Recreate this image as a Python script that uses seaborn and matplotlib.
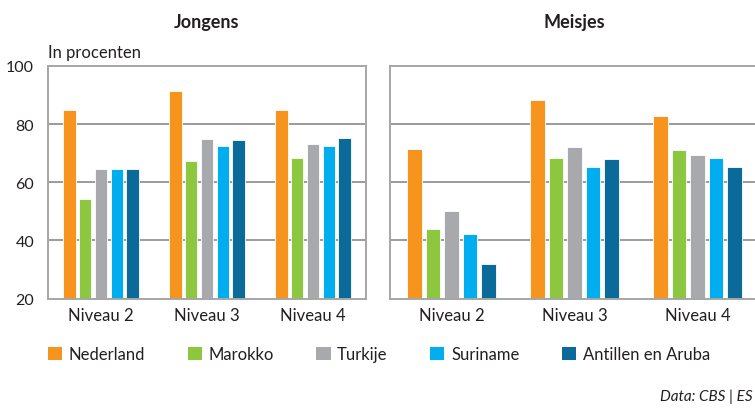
import pandas as pd
import matplotlib.pyplot as plt
import seaborn as sns
from matplotlib.patches import Patch

# Data (aflezen uit de grafiek)
niveaus = ['Niveau 2', 'Niveau 3', 'Niveau 4']
herkomst = ['Nederland', 'Marokko', 'Turkije', 'Suriname', 'Antillen en Aruba']
kleuren = ['#F7941D', '#8DC63F', '#A7A9AC', '#00AEEF', '#0A6A9A']

jongens = {
    'Nederland': [85.0, 91.5, 85.0],
    'Marokko': [54.1, 67.3, 68.4],
    'Turkije': [64.4, 74.8, 73.1],
    'Suriname': [64.4, 72.6, 72.6],
    'Antillen en Aruba': [64.4, 74.4, 75.2],
}
meisjes = {
    'Nederland': [71.5, 88.3, 82.9],
    'Marokko': [44.0, 68.5, 71.2],
    'Turkije': [50.1, 72.0, 69.3],
    'Suriname': [42.2, 65.4, 68.5],
    'Antillen en Aruba': [31.7, 68.1, 65.4],
}
yticks = [20, 40, 60, 80, 100]


def naar_long(d):
    rows = []
    for h in herkomst:
        for n, v in zip(niveaus, d[h]):
            rows.append({'Niveau': n, 'Herkomst': h, 'Waarde': v})
    return pd.DataFrame(rows)


sns.set_theme(style="white")
plt.rcParams['font.family'] = ['Lato', 'DejaVu Sans']
tekst = '#231f20'

fig = plt.figure(figsize=(7.55, 4.10), dpi=100)
ax_l = fig.add_axes([48 / 755, 1 - 299.5 / 410, 318 / 755, 232.5 / 410])
ax_r = fig.add_axes([390 / 755, 1 - 299.5 / 410, 369 / 755, 232.5 / 410])

for ax, data, titel in [(ax_l, jongens, 'Jongens'), (ax_r, meisjes, 'Meisjes')]:
    df = naar_long(data)
    sns.barplot(data=df, x='Niveau', y='Waarde', hue='Herkomst', order=niveaus,
                hue_order=herkomst, palette=kleuren, saturation=1, width=0.75, gap=0.2,
                edgecolor='white', linewidth=0.6, legend=False, ax=ax)
    ax.set_xlim(-0.5, 2.5)
    ax.set_ylim(20, 100)
    ax.set_yticks(yticks)
    for y in [40, 60, 80]:
        ax.axhline(y, color='#8a8a8a', lw=1.2, zorder=0)
    for s in ax.spines.values():
        s.set_color('#a6a6a6')
        s.set_linewidth(1.4)
    ax.set_xlabel('')
    ax.set_ylabel('')
    ax.tick_params(axis='both', length=0, labelsize=12, colors=tekst, pad=6)
    ax.set_title(titel, fontsize=13, fontweight='bold', color=tekst, pad=28)

ax_l.tick_params(axis='y', pad=10, labelsize=11.5)
ax_r.set_yticklabels([])
ax_l.text(0, 1.025, 'In procenten', transform=ax_l.transAxes, fontsize=12,
          color=tekst, va='bottom', ha='left')

handles = [Patch(facecolor=c, edgecolor='none', label=h) for c, h in zip(kleuren, herkomst)]
fig.legend(handles=handles, loc='center left', bbox_to_anchor=(48 / 755, 1 - 355 / 410),
           ncol=5, frameon=False, fontsize=12, handlelength=0.85, handleheight=0.85,
           handletextpad=0.4, columnspacing=2.55, borderpad=0, borderaxespad=0,
           labelcolor=tekst)

fig.text(753 / 755, 1 - 397 / 410, 'Data: CBS | ES', ha='right', va='center',
         fontsize=11, style='italic', color=tekst)

plt.savefig('out.png', dpi=100)
